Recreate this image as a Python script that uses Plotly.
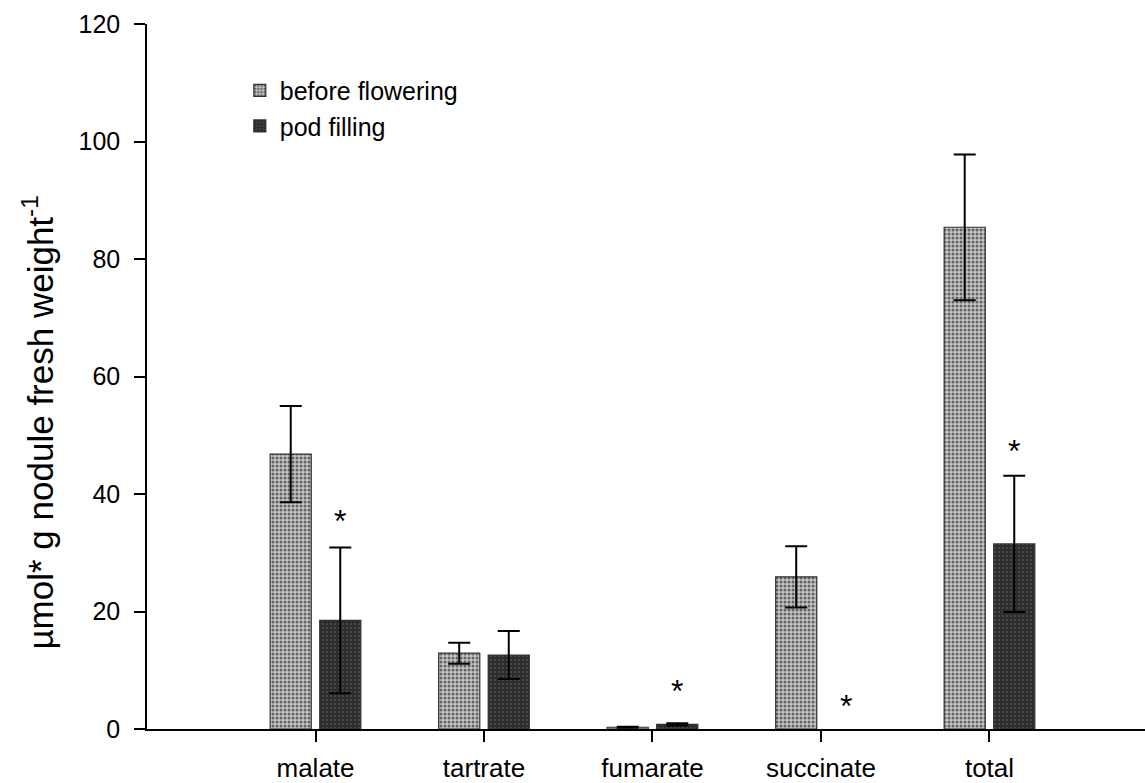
import plotly.graph_objects as go

categories = ["malate", "tartrate", "fumarate", "succinate", "total"]
before_vals = [46.8, 12.9, 0.3, 25.9, 85.4]
before_err = [8.2, 1.8, 0.1, 5.2, 12.4]
pod_vals = [18.5, 12.6, 0.8, None, 31.5]
pod_err = [12.4, 4.1, 0.2, None, 11.6]
star_y = [36.8, None, 7.8, 5.3, 48.7]
y_ticks = [0, 20, 40, 60, 80, 100, 120]

FONT = "Liberation Sans, Arial, sans-serif"

fig = go.Figure()
fig.add_trace(go.Bar(
    name="before flowering", x=categories, y=before_vals,
    error_y=dict(type="data", array=before_err, visible=True,
                 color="black", thickness=2, width=11),
    marker=dict(color="#c4c4c4",
                line=dict(color="#333333", width=1.2),
                pattern=dict(shape=".", fgcolor="black", bgcolor="#c4c4c4",
                             size=4, solidity=0.45)),
))
fig.add_trace(go.Bar(
    name="pod filling", x=categories, y=pod_vals,
    error_y=dict(type="data", array=pod_err, visible=True,
                 color="black", thickness=2, width=11),
    marker=dict(color="#1a1a1a",
                line=dict(color="#333333", width=1.2),
                pattern=dict(shape="+", fgcolor="#000000", bgcolor="#5a5a5a",
                             size=4, solidity=0.85)),
))

annotations = []
slot = (1 - 0.412) / 2
for i, sy in enumerate(star_y):
    if sy is None:
        continue
    annotations.append(dict(
        x=i + slot / 2, y=sy, xref="x", yref="y", text="*", showarrow=False,
        font=dict(family=FONT, size=32, color="black"),
        xanchor="center", yanchor="middle", yshift=-8,
    ))
annotations.append(dict(
    x=-0.109, y=0.435, xref="paper", yref="paper",
    text="µmol* g nodule fresh weight<sup>-1</sup>",
    textangle=-90, showarrow=False, xanchor="center", yanchor="middle",
    font=dict(family=FONT, size=35, color="black"),
))

fig.update_layout(
    width=1145, height=783,
    margin=dict(l=147, r=0, t=24, b=54, autoexpand=False),
    paper_bgcolor="white", plot_bgcolor="white",
    barmode="group", bargap=0.412, bargroupgap=0.17,
    font=dict(family=FONT, color="black"),
    showlegend=True,
    legend=dict(x=0.093, y=0.938, xanchor="left", yanchor="top",
                font=dict(family=FONT, size=25, color="black"),
                bgcolor="rgba(0,0,0,0)", tracegroupgap=0),
    annotations=annotations,
    xaxis=dict(
        type="category", range=[-1, 4.923], automargin=False,
        showline=True, linecolor="black", linewidth=1.5,
        ticks="outside", ticklen=11, tickwidth=1.5, tickcolor="black",
        tickfont=dict(family=FONT, size=26, color="black"),
        ticklabelstandoff=4, showgrid=False, zeroline=False,
    ),
    yaxis=dict(
        range=[0, 120], tickvals=y_ticks, automargin=False,
        showline=True, linecolor="black", linewidth=1.5,
        ticks="outside", ticklen=11, tickwidth=1.5, tickcolor="black",
        tickfont=dict(family=FONT, size=25, color="black"),
        ticklabelstandoff=9, showgrid=False, zeroline=False,
    ),
)

fig.write_html(
    "out.html",
    config={"displayModeBar": False},
    post_script="document.body.style.margin='0';document.body.style.overflow='hidden';",
)
